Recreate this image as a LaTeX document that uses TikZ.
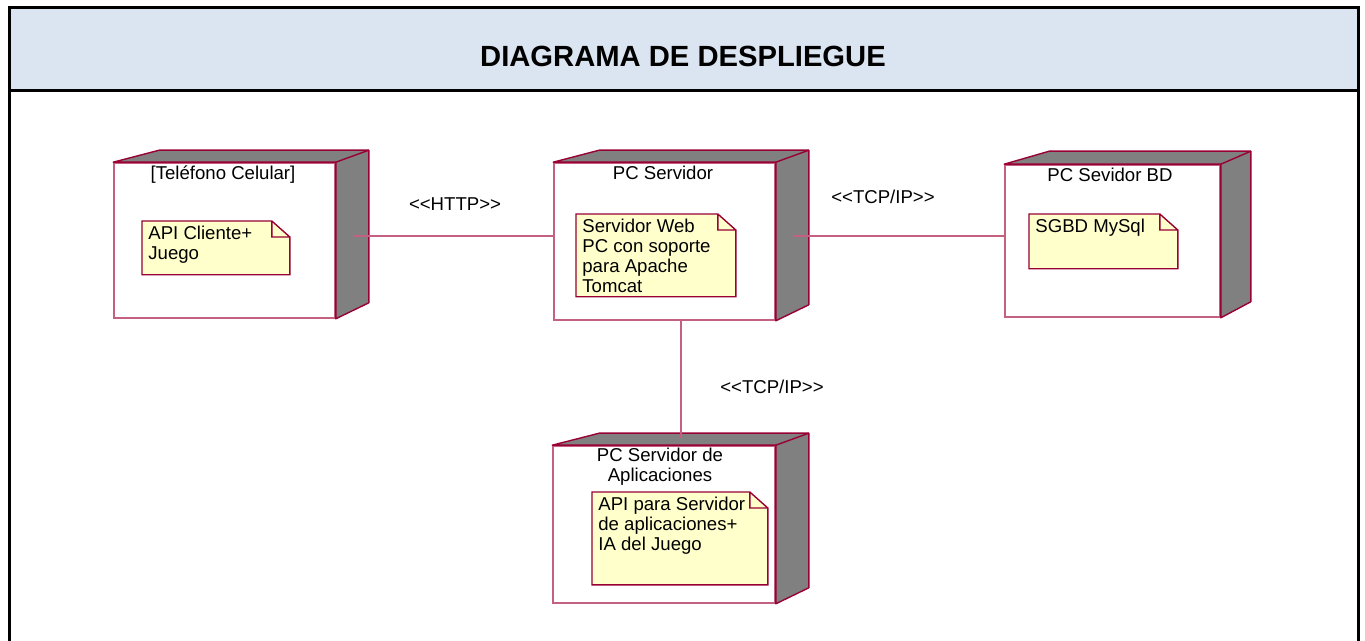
\documentclass[tikz,border=0pt]{standalone}
\usepackage{fontspec}
\setmainfont{Liberation Sans}
\usepackage{tikz}
\usetikzlibrary{positioning,calc}

\definecolor{granate}{RGB}{153,0,51}
\definecolor{rosa}{RGB}{196,96,128}
\definecolor{gris}{RGB}{128,128,128}
\definecolor{amarillo}{RGB}{255,255,204}
\definecolor{azulclaro}{RGB}{219,229,241}
\newcommand{\fuente}{\fontsize{9.3}{10}\selectfont}

\tikzset{
    frente/.style={draw=rosa, fill=white, line width=0.8pt, inner sep=0pt},
    lado/.style={draw=granate, fill=gris, line width=0.7pt, line join=round},
    nota/.style={fill=amarillo, inner sep=0pt, anchor=north west},
    bordenota/.style={draw=granate, line width=0.7pt},
    textonota/.style={anchor=north west, align=left, inner sep=0pt, font=\fuente},
    titulo/.style={align=center, inner sep=0pt, font=\fuente},
    etiqueta/.style={inner sep=0pt, font=\fuente},
    enlace/.style={draw=rosa, line width=0.9pt}
}

\begin{document}
\begin{tikzpicture}[x=0.5pt,y=-0.5pt]
                \useasboundingbox (0,0) rectangle (1365,641);

                % marco y cabecera
                \fill[azulclaro] (9,8) rectangle (1358,91);
                \draw[black, line width=1.5pt] (9,660) -- (9,8) -- (1358,8) -- (1358,660);
                \draw[black, line width=1.5pt] (9,91) -- (1358,91);
                \node[font=\bfseries\fontsize{14.6}{16}\selectfont] (cabecera) at (683,56) {DIAGRAMA DE DESPLIEGUE};

                % caras frontales de los nodos
                \node[frente, minimum width=110.5pt, minimum height=77.5pt] (tel) at (224.5,240.5) {};
                \node[frente, minimum width=110.5pt, minimum height=78.5pt] (srv) at (664.5,241.5) {};
                \node[frente, minimum width=107.5pt, minimum height=76pt]   (bd)  at (1112.5,241) {};
                \node[frente, minimum width=111pt,   minimum height=78.5pt] (app) at (664,524.5) {};

                % caras superior y lateral
                \filldraw[lado] (tel.north west) -- ++(46,-12) -- ([shift={(33,-12)}]tel.north east) -- ([shift={(33,-16)}]tel.south east) -- (tel.south east) -- (tel.north east) -- cycle;
                \draw[lado] (tel.north east) -- ++(33,-12);
                \filldraw[lado] (srv.north west) -- ++(46,-12) -- ([shift={(33,-12)}]srv.north east) -- ([shift={(33,-16)}]srv.south east) -- (srv.south east) -- (srv.north east) -- cycle;
                \draw[lado] (srv.north east) -- ++(33,-12);
                \filldraw[lado] (bd.north west) -- ++(45,-13) -- ([shift={(30,-13)}]bd.north east) -- ([shift={(30,-16)}]bd.south east) -- (bd.south east) -- (bd.north east) -- cycle;
                \draw[lado] (bd.north east) -- ++(30,-13);
                \filldraw[lado] (app.north west) -- ++(47,-12) -- ([shift={(33,-12)}]app.north east) -- ([shift={(33,-16)}]app.south east) -- (app.south east) -- (app.north east) -- cycle;
                \draw[lado] (app.north east) -- ++(33,-12);

                % titulos
                \node[titulo] (teltit) at (223,175)  {[Teléfono Celular]};
                \node[titulo] (srvtit) at (663,173)  {PC Servidor};
                \node[titulo] (bdtit)  at (1110,175) {PC Sevidor BD};
                \node[titulo] (apptit) at (660,467)  {PC Servidor de\\Aplicaciones};

                % notas
                \node[nota, minimum width=73.5pt, minimum height=26.5pt] (nota1) at (142,221) {};
                \node[nota, minimum width=79.5pt, minimum height=41pt]   (nota2) at (576,214) {};
                \node[nota, minimum width=74pt,   minimum height=27pt]   (nota3) at (1029,214) {};
                \node[nota, minimum width=87.5pt, minimum height=46pt]   (nota4) at (592,492) {};

                \fill[white] ([xshift=-9pt]nota1.north east) -- (nota1.north east) -- ([yshift=-8pt]nota1.north east) -- cycle;
                \draw[bordenota] (nota1.north west) -- ([xshift=-9pt]nota1.north east) -- ([yshift=-8pt]nota1.north east) -- (nota1.south east) -- (nota1.south west) -- cycle
                    ([xshift=-9pt]nota1.north east) |- ([yshift=-8pt]nota1.north east);
                \fill[white] ([xshift=-9pt]nota2.north east) -- (nota2.north east) -- ([yshift=-8pt]nota2.north east) -- cycle;
                \draw[bordenota] (nota2.north west) -- ([xshift=-9pt]nota2.north east) -- ([yshift=-8pt]nota2.north east) -- (nota2.south east) -- (nota2.south west) -- cycle
                    ([xshift=-9pt]nota2.north east) |- ([yshift=-8pt]nota2.north east);
                \fill[white] ([xshift=-9pt]nota3.north east) -- (nota3.north east) -- ([yshift=-8pt]nota3.north east) -- cycle;
                \draw[bordenota] (nota3.north west) -- ([xshift=-9pt]nota3.north east) -- ([yshift=-8pt]nota3.north east) -- (nota3.south east) -- (nota3.south west) -- cycle
                    ([xshift=-9pt]nota3.north east) |- ([yshift=-8pt]nota3.north east);
                \fill[white] ([xshift=-9pt]nota4.north east) -- (nota4.north east) -- ([yshift=-8pt]nota4.north east) -- cycle;
                \draw[bordenota] (nota4.north west) -- ([xshift=-9pt]nota4.north east) -- ([yshift=-8pt]nota4.north east) -- (nota4.south east) -- (nota4.south west) -- cycle
                    ([xshift=-9pt]nota4.north east) |- ([yshift=-8pt]nota4.north east);

                \node[textonota] (texto1) at ([shift={(3pt,-2.3pt)}]nota1.north west) {API Cliente+\\Juego};
                \node[textonota] (texto2) at ([shift={(3pt,-2.3pt)}]nota2.north west) {Servidor Web\\PC con soporte\\para Apache\\Tomcat};
                \node[textonota] (texto3) at ([shift={(3pt,-2.3pt)}]nota3.north west) {SGBD MySql};
                \node[textonota] (texto4) at ([shift={(3pt,-2.3pt)}]nota4.north west) {API para Servidor\\de aplicaciones+\\IA del Juego};

                % conexiones
                \coordinate (tellado)   at ([shift={(8.5pt,2.25pt)}]tel.east);
                \coordinate (srvlado)   at ([shift={(8.5pt,2.75pt)}]srv.east);
                \coordinate (srvabajo)  at ([xshift=8.25pt]srv.south);
                \coordinate (apparriba) at ([shift={(8.5pt,3.5pt)}]app.north);

                \draw[enlace] (tellado) -- (tellado -| srv.west);
                \draw[enlace] (srvlado) -- (srvlado -| bd.west);
                \draw[enlace] (srvabajo) -- (apparriba);

                \node[etiqueta] (lhttp) at (455,204) {<\kern0pt<HTTP>\kern0pt>};
                \node[etiqueta] (ltcp1) at (883,197) {<\kern0pt<TCP/IP>\kern0pt>};
                \node[etiqueta] (ltcp2) at (772,387) {<\kern0pt<TCP/IP>\kern0pt>};
            \end{tikzpicture}
\end{document}
